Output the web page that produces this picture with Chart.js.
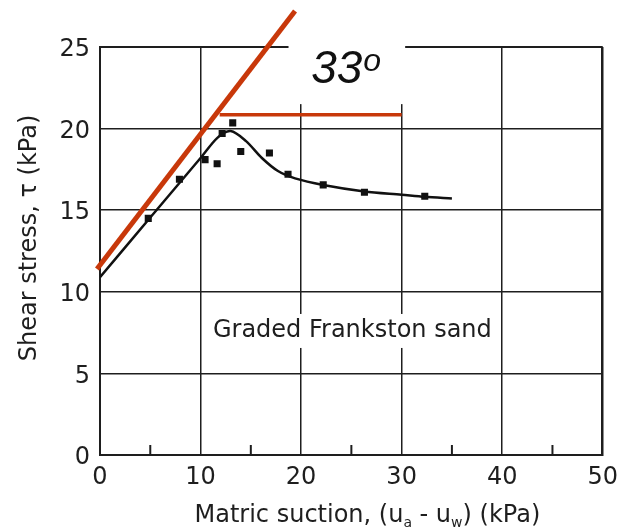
<!DOCTYPE html>
<html>
<head>
<meta charset="utf-8">
<script src="https://cdn.jsdelivr.net/npm/chart.js@4.4.1/dist/chart.umd.min.js"></script>
<style>
  html, body { margin: 0; padding: 0; background: #fff; }
</style>
</head>
<body>
<canvas id="shearChart" width="626" height="529"></canvas>
<script>
// measured points (matric suction kPa, shear stress kPa)
const suction = [4.8, 7.9, 10.45, 11.65, 12.15, 13.2, 14.0, 16.85, 18.7, 22.2, 26.3, 32.3];
const shear = [14.5, 16.9, 18.1, 17.85, 19.7, 20.35, 18.6, 18.5, 17.2, 16.55, 16.1, 15.85];

// fitted curve
const curveX = [0, 5.0, 10.0, 11.7, 13.0, 14.5, 16.1, 17.7, 19.4, 22.2, 26.3, 30.0, 32.3, 35.0];
const curveY = [10.9, 14.55, 18.2, 19.45, 19.85, 19.25, 18.2, 17.4, 16.95, 16.55, 16.15, 15.95, 15.82, 15.72];

// red construction lines
const slopeX = [-0.3, 19.4];
const slopeY = [11.4, 27.2];
const levelX = [11.9, 30.0];
const levelY = [20.85, 20.85];

// axes
const xTicks = [0, 10, 20, 30, 40, 50];
const yTicks = [0, 5, 10, 15, 20, 25];
const minorX = [5, 15, 25, 35, 45];

// labels (data coords)
const angleText = '33';
const angleAt = [21.0, 22.8];
const angleBox = [18.75, 30.35, 21.5, 27.8]; // x0, x1, y0, y1
const sampleText = 'Graded Frankston sand';
const sampleAt = [25.1, 7.6];

const toPts = (xs, ys) => xs.map((v, i) => ({ x: v, y: ys[i] }));

const INK = '#1e1e1e';
const RED = '#c8380a';

const annotations = {
    id: 'annotations',
    beforeDatasetsDraw(chart) {
        const ctx = chart.ctx;
        const x = chart.scales.x, y = chart.scales.y;
        const bottom = chart.chartArea.bottom;
        ctx.save();

        // small ticks at the half decades, pointing inward
        ctx.strokeStyle = INK;
        ctx.lineWidth = 2;
        minorX.forEach(v => {
            const px = x.getPixelForValue(v);
            ctx.beginPath();
            ctx.moveTo(px, bottom);
            ctx.lineTo(px, bottom - 10);
            ctx.stroke();
        });

        // white patch behind the angle label
        const bx0 = x.getPixelForValue(angleBox[0]);
        const bx1 = x.getPixelForValue(angleBox[1]);
        const by0 = y.getPixelForValue(angleBox[3]);
        const by1 = y.getPixelForValue(angleBox[2]);
        ctx.fillStyle = '#fff';
        ctx.fillRect(bx0, by0, bx1 - bx0, by1 - by0);

        ctx.fillStyle = '#111';
        ctx.textAlign = 'left';
        ctx.textBaseline = 'alphabetic';
        ctx.font = 'italic 46px "Liberation Sans"';
        const tx = x.getPixelForValue(angleAt[0]);
        const ty = y.getPixelForValue(angleAt[1]);
        ctx.fillText(angleText, tx, ty);
        const w = ctx.measureText(angleText).width;
        ctx.font = 'italic 32px "Liberation Sans"';
        ctx.fillText('o', tx + w + 1, ty - 12);

        // sample label on white background
        ctx.font = '24px "DejaVu Sans"';
        ctx.textAlign = 'center';
        ctx.textBaseline = 'middle';
        const sx = x.getPixelForValue(sampleAt[0]);
        const sy = y.getPixelForValue(sampleAt[1]);
        const sw = ctx.measureText(sampleText).width;
        ctx.fillStyle = '#fff';
        ctx.fillRect(sx - sw / 2 - 6, sy - 17, sw + 12, 34);
        ctx.fillStyle = INK;
        ctx.fillText(sampleText, sx, sy);
        ctx.restore();
    },
    afterDraw(chart) {
        const ctx = chart.ctx;
        const area = chart.chartArea;
        ctx.save();
        ctx.fillStyle = INK;

        // y title
        ctx.font = '24px "DejaVu Sans"';
        ctx.translate(30, (area.top + area.bottom) / 2 - 13);
        ctx.rotate(-Math.PI / 2);
        ctx.textAlign = 'center';
        ctx.textBaseline = 'middle';
        ctx.fillText('Shear stress, \u03c4 (kPa)', 0, 0);
        ctx.setTransform(1, 0, 0, 1, 0, 0);

        // x title with subscripts
        const parts = [['Matric suction, (u', 0], ['a', 1], [' - u', 0], ['w', 1], [') (kPa)', 0]];
        const mainFont = '24px "DejaVu Sans"', subFont = '14px "DejaVu Sans"';
        let total = 0;
        parts.forEach(p => { ctx.font = p[1] ? subFont : mainFont; total += ctx.measureText(p[0]).width; });
        let cx = (area.left + area.right) / 2 + 16 - total / 2;
        const base = 522;
        ctx.textAlign = 'left';
        ctx.textBaseline = 'alphabetic';
        parts.forEach(p => {
            ctx.font = p[1] ? subFont : mainFont;
            ctx.fillText(p[0], cx, base + (p[1] ? 5 : 0));
            cx += ctx.measureText(p[0]).width;
        });
        ctx.restore();
    }
};

const ctx = document.getElementById('shearChart').getContext('2d');
const chart = new Chart(ctx, {
    type: 'scatter',
    data: {
        datasets: [
            {
                // friction angle line
                data: toPts(slopeX, slopeY),
                showLine: true,
                borderColor: RED,
                borderWidth: 5,
                pointRadius: 0,
                clip: false
            },
            {
                data: toPts(levelX, levelY),
                showLine: true,
                borderColor: RED,
                borderWidth: 3.5,
                pointRadius: 0,
                clip: false
            },
            {
                data: toPts(suction, shear),
                pointStyle: 'rect',
                pointRadius: 5,
                backgroundColor: '#111',
                borderColor: '#111',
                borderWidth: 0
            },
            {
                data: toPts(curveX, curveY),
                showLine: true,
                borderColor: '#111',
                borderWidth: 2.5,
                pointRadius: 0,
                tension: 0.3
            }
        ]
    },
    options: {
        responsive: false,
        devicePixelRatio: 1,
        animation: false,
        layout: { padding: { top: 47, right: 19, left: 0, bottom: 0 } },
        plugins: {
            legend: { display: false },
            tooltip: { enabled: false }
        },
        scales: {
            x: {
                type: 'linear',
                min: 0,
                max: 50,
                afterFit: s => { s.height = 74; },
                afterBuildTicks: s => { s.ticks = xTicks.map(v => ({ value: v })); },
                ticks: {
                    padding: 8,
                    color: INK,
                    font: { family: 'DejaVu Sans', size: 24 }
                },
                grid: {
                    color: INK,
                    lineWidth: c => (c.tick && c.tick.value === 50 ? 2.5 : 1.5),
                    drawTicks: false
                },
                border: { color: INK, width: 2 }
            },
            y: {
                type: 'linear',
                min: 0,
                max: 25,
                afterFit: s => { s.width = 100; },
                afterBuildTicks: s => { s.ticks = yTicks.map(v => ({ value: v })); },
                ticks: {
                    padding: 10,
                    labelOffset: 3,
                    color: INK,
                    font: { family: 'DejaVu Sans', size: 24 }
                },
                grid: {
                    color: INK,
                    lineWidth: c => (c.tick && c.tick.value === 25 ? 2 : 1.5),
                    drawTicks: false
                },
                border: { color: INK, width: 2 }
            }
        }
    },
    plugins: [annotations]
});
</script>
</body>
</html>
